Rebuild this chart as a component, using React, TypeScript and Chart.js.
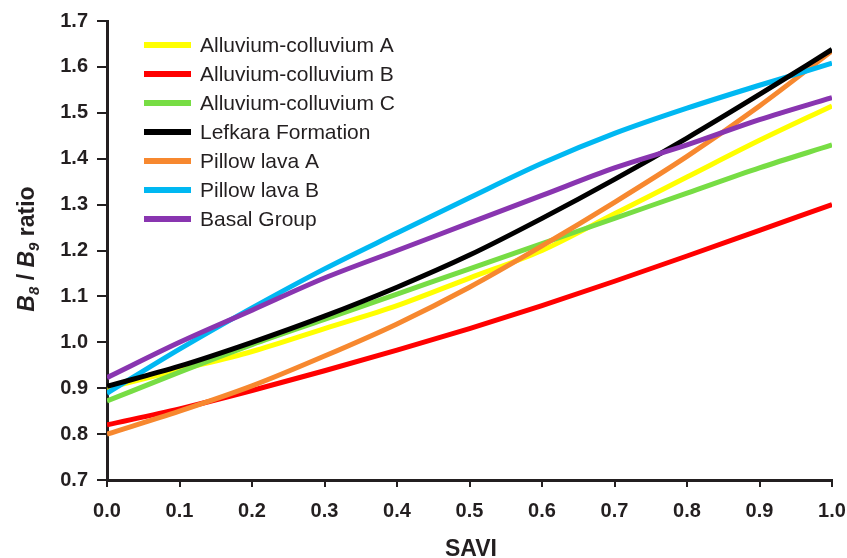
import React, { useEffect, useRef } from "react";
import { Chart, registerables } from "chart.js";

Chart.register(...registerables);

// SAVI values at which each curve is sampled
const saviValues = [0, 0.1, 0.2, 0.3, 0.4, 0.5, 0.6, 0.7, 0.8, 0.9, 1.0];

// B8/B9 ratio per lithology
const alluviumA = [0.9, 0.94, 0.98, 1.03, 1.08, 1.14, 1.2, 1.28, 1.36, 1.44, 1.515];
const alluviumB = [0.82, 0.855, 0.895, 0.938, 0.983, 1.03, 1.08, 1.133, 1.188, 1.244, 1.3];
const alluviumC = [0.872, 0.935, 0.995, 1.05, 1.105, 1.16, 1.215, 1.27, 1.325, 1.38, 1.43];
const lefkara = [0.904, 0.948, 1.0, 1.057, 1.12, 1.19, 1.27, 1.355, 1.445, 1.54, 1.638];
const pillowA = [0.8, 0.85, 0.905, 0.97, 1.04, 1.12, 1.21, 1.305, 1.405, 1.515, 1.635];
const pillowB = [0.889, 0.985, 1.075, 1.16, 1.238, 1.315, 1.39, 1.455, 1.51, 1.56, 1.608];
const basal = [0.923, 1.0, 1.07, 1.14, 1.2, 1.26, 1.32, 1.38, 1.43, 1.485, 1.533];

const seriesLabels = [
  "Alluvium-colluvium A",
  "Alluvium-colluvium B",
  "Alluvium-colluvium C",
  "Lefkara Formation",
  "Pillow lava A",
  "Pillow lava B",
  "Basal Group",
];
const seriesValues = [alluviumA, alluviumB, alluviumC, lefkara, pillowA, pillowB, basal];
const seriesColors = ["#FFFF00", "#FF0000", "#77DD44", "#000000", "#F7882F", "#00B8F2", "#8935B0"];
const drawOrder = [5, 6, 4, 1, 3, 2, 0];

const ink = "#231F20";
const fontFamily = "'Liberation Sans', Arial, Helvetica, sans-serif";

const legendPlugin = {
  id: "insideLegend",
  afterDatasetsDraw(chart: any) {
    const ctx = chart.ctx;
    ctx.save();
    chart.data.datasets.forEach((ds: any, i: number) => {
      const y = 45 + i * 29;
      ctx.strokeStyle = ds.borderColor;
      ctx.lineWidth = 6;
      ctx.lineCap = "butt";
      ctx.beginPath();
      ctx.moveTo(144, y);
      ctx.lineTo(191, y);
      ctx.stroke();
      ctx.fillStyle = ink;
      ctx.font = `21px ${fontFamily}`;
      ctx.textBaseline = "middle";
      ctx.textAlign = "left";
      ctx.fillText(ds.label, 200, y + 1);
    });
    ctx.restore();
  },
};

const titlesPlugin = {
  id: "axisTitles",
  afterDraw(chart: any) {
    const ctx = chart.ctx;
    ctx.save();
    ctx.fillStyle = ink;
    // x title
    ctx.font = `bold 23px ${fontFamily}`;
    ctx.textAlign = "center";
    ctx.textBaseline = "alphabetic";
    ctx.fillText("SAVI", 471, 556);

    // y title with subscripts
    const parts = [
      { t: "B", f: `italic bold 23px ${fontFamily}`, dy: 0 },
      { t: "8", f: `italic bold 15px ${fontFamily}`, dy: 5 },
      { t: " / ", f: `bold 23px ${fontFamily}`, dy: 0 },
      { t: "B", f: `italic bold 23px ${fontFamily}`, dy: 0 },
      { t: "9", f: `italic bold 15px ${fontFamily}`, dy: 5 },
      { t: " ratio", f: `bold 23px ${fontFamily}`, dy: 0 },
    ];
    let total = 0;
    const widths = parts.map((p) => {
      ctx.font = p.f;
      const w = ctx.measureText(p.t).width;
      total += w;
      return w;
    });
    ctx.translate(34, 249);
    ctx.rotate(-Math.PI / 2);
    ctx.textAlign = "left";
    let x = -total / 2;
    parts.forEach((p, i) => {
      ctx.font = p.f;
      ctx.fillText(p.t, x, p.dy);
      x += widths[i];
    });
    ctx.restore();
  },
};

export default function App() {
  const canvasRef = useRef<HTMLCanvasElement | null>(null);

  useEffect(() => {
    if (!canvasRef.current) return;
    const datasets = seriesLabels.map((label, i) => ({
      label,
      data: saviValues.map((x, j) => ({ x, y: seriesValues[i][j] })),
      borderColor: seriesColors[i],
      backgroundColor: seriesColors[i],
      borderWidth: 5,
      pointRadius: 0,
      fill: false,
      cubicInterpolationMode: "monotone" as const,
      order: drawOrder[i],
    }));

    const chart = new Chart(canvasRef.current, {
      type: "line",
      data: { datasets },
      options: {
        animation: false,
        responsive: false,
        devicePixelRatio: 1,
        layout: { padding: { top: 20, right: 15, left: 0, bottom: 0 } },
        plugins: {
          legend: { display: false },
          tooltip: { enabled: false },
        },
        scales: {
          x: {
            type: "linear",
            min: 0,
            max: 1,
            afterFit: (s: any) => {
              s.height = 78;
              s.paddingRight = 0;
              s.paddingLeft = 0;
            },
            ticks: {
              stepSize: 0.1,
              color: ink,
              padding: 12,
              font: { family: fontFamily, size: 20, weight: "bold" },
              callback: (v: any) => Number(v).toFixed(1),
            },
            grid: {
              drawOnChartArea: false,
              drawTicks: true,
              tickLength: 7,
              color: ink,
              lineWidth: 2,
            },
            border: { display: true, color: ink, width: 3 },
          },
          y: {
            type: "linear",
            min: 0.7,
            max: 1.7,
            afterFit: (s: any) => {
              s.width = 107;
            },
            ticks: {
              stepSize: 0.1,
              color: ink,
              padding: 9,
              font: { family: fontFamily, size: 20, weight: "bold" },
              callback: (v: any) => Number(v).toFixed(1),
            },
            grid: {
              drawOnChartArea: false,
              drawTicks: true,
              tickLength: 10,
              color: ink,
              lineWidth: 2,
            },
            border: { display: true, color: ink, width: 3 },
          },
        },
      },
      plugins: [legendPlugin, titlesPlugin],
    });
    return () => chart.destroy();
  }, []);

  return (
    <div style={{ position: "fixed", left: 0, top: 0, width: 847, height: 558, background: "#fff" }}>
      <canvas ref={canvasRef} width={847} height={558} />
    </div>
  );
}
